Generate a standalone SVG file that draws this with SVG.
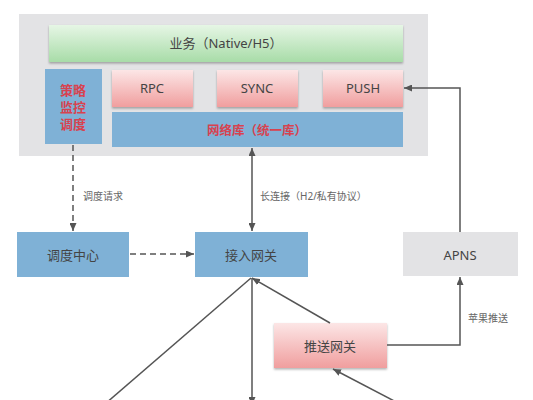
<svg xmlns="http://www.w3.org/2000/svg" width="533" height="400" viewBox="0 0 533 400">
<defs>
<linearGradient id="gGreen" x1="0" y1="0" x2="0" y2="1"><stop offset="0" stop-color="#e6f6e5"/><stop offset="1" stop-color="#a8dca8"/></linearGradient>
<linearGradient id="gRed" x1="0" y1="0" x2="0" y2="1"><stop offset="0" stop-color="#fce6e6"/><stop offset="1" stop-color="#f09e9e"/></linearGradient>
<filter id="sh" x="-5%" y="-10%" width="110%" height="130%"><feDropShadow dx="0" dy="1.5" stdDeviation="1" flood-color="#000" flood-opacity="0.3"/></filter>
<marker id="ah" viewBox="0 0 8 7" refX="8" refY="3.5" markerWidth="8" markerHeight="7" markerUnits="userSpaceOnUse" orient="auto-start-reverse"><path d="M0,0 L8,3.5 L0,7 z" fill="#555"/></marker>
</defs>
<style>
text{font-family:"Noto Sans","Noto Sans CJK SC",sans-serif;text-anchor:middle;dominant-baseline:central}
.lbl{font-size:13px;fill:#444}
.red{font-size:13px;fill:#d8424f;font-weight:bold}
.sm{font-size:10px;fill:#666;text-anchor:start}
.ln{fill:none;stroke:#555;stroke-width:1.5}
.dash{stroke-dasharray:6 4}
.blue{fill:#7fb1d6}
.gray{fill:#e3e3e5}
</style>
<rect width="533" height="400" fill="#fff"/>
<g id="client">
<rect x="19" y="14" width="409" height="142" class="gray"/>
</g>
<g id="business">
<rect x="49" y="25" width="354" height="37" fill="url(#gGreen)" filter="url(#sh)"/>
<text x="226" y="43" class="lbl">业务（Native/H5）</text>
</g>
<g id="strategy">
<rect x="45" y="69" width="57" height="75" class="blue"/>
<text x="73" y="90" class="red">策略</text>
<text x="73" y="107" class="red">监控</text>
<text x="73" y="124" class="red">调度</text>
</g>
<g id="rpc">
<rect x="112" y="70" width="81" height="37" fill="url(#gRed)" filter="url(#sh)"/>
<text x="152" y="88" class="lbl">RPC</text>
</g>
<g id="sync">
<rect x="217" y="70" width="81" height="37" fill="url(#gRed)" filter="url(#sh)"/>
<text x="257" y="88" class="lbl">SYNC</text>
</g>
<g id="push">
<rect x="323" y="70" width="80" height="37" fill="url(#gRed)" filter="url(#sh)"/>
<text x="363" y="88" class="lbl">PUSH</text>
</g>
<g id="netlib">
<rect x="112" y="112" width="291" height="35" class="blue"/>
<text x="257" y="130" class="red" style="font-size:12.5px">网络库（统一库）</text>
</g>
<g id="dispatch">
<rect x="17" y="232" width="112" height="45" class="blue"/>
<text x="73" y="255" class="lbl">调度中心</text>
</g>
<g id="gateway">
<rect x="195" y="232" width="113" height="45" class="blue"/>
<text x="251" y="255" class="lbl">接入网关</text>
</g>
<g id="apns">
<rect x="403" y="232" width="115" height="44" class="gray"/>
<text x="460" y="255" class="lbl">APNS</text>
</g>
<g id="pushgw">
<rect x="274" y="323" width="113" height="45" fill="url(#gRed)" filter="url(#sh)"/>
<text x="330" y="346" class="lbl">推送网关</text>
</g>
<g id="connectors">
<path class="ln dash" d="M73,145 V231" marker-end="url(#ah)"/>
<path class="ln dash" d="M130,254 H194" marker-end="url(#ah)"/>
<path class="ln" d="M252,148 V231" marker-start="url(#ah)" marker-end="url(#ah)"/>
<path class="ln" d="M460,232 V88 H404" marker-end="url(#ah)"/>
<path class="ln" d="M387,345 H460 V277" marker-end="url(#ah)"/>
<path class="ln" d="M330,323 L252,278" marker-end="url(#ah)"/>
<path class="ln" d="M400,404 L333,369" marker-end="url(#ah)"/>
<path class="ln" d="M251,278 L105,404"/>
<path class="ln" d="M252,278 V405" marker-end="url(#ah)"/>
<text x="83" y="196" class="sm">调度请求</text>
<text x="260" y="196" class="sm">长连接（H2/私有协议）</text>
<text x="468" y="318" class="sm">苹果推送</text>
</g>
</svg>
